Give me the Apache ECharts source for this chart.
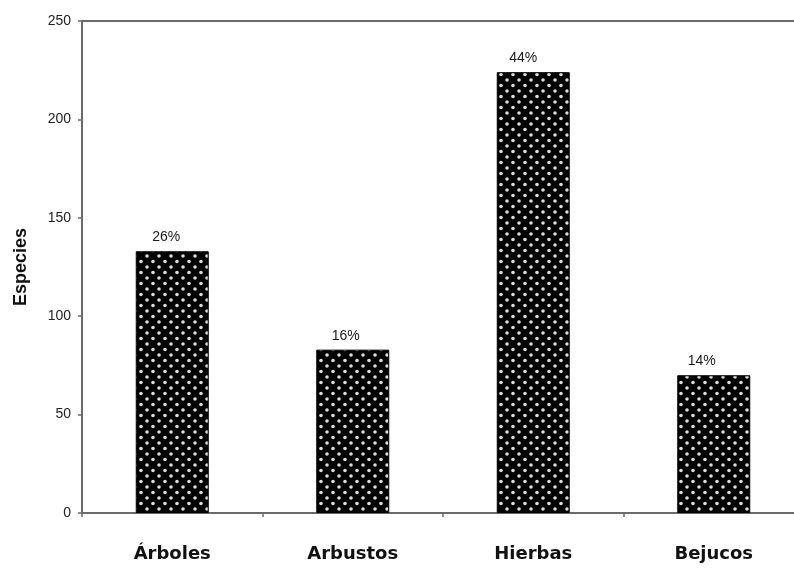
<!DOCTYPE html>
<html>
<head>
<meta charset="utf-8">
<script src="https://cdn.jsdelivr.net/npm/echarts@6/dist/echarts.min.js"></script>
<style>
  html, body { margin: 0; padding: 0; background: #ffffff; }
  #chart { width: 794px; height: 568px; }
</style>
</head>
<body>
<div id="chart"></div>
<script>
// Growth forms and number of species per form
const categories = ['Árboles', 'Arbustos', 'Hierbas', 'Bejucos'];
const especies = [133, 83, 224, 70];
const percentLabels = ['26%', '16%', '44%', '14%'];
const yTicks = [0, 50, 100, 150, 200, 250];

// horizontal nudge of each percentage label (px)
const labelShift = [-6, -7, -10, -12];

// Black fill with a staggered grid of light dots
function dottedPattern() {
  const tile = document.createElement('canvas');
  tile.width = 12;
  tile.height = 11;
  const ctx = tile.getContext('2d');
  ctx.fillStyle = '#000000';
  ctx.fillRect(0, 0, 12, 11);
  ctx.fillStyle = '#dcdcdc';
  [[3, 3], [9, 8.5]].forEach(function (p) {
    ctx.beginPath();
    ctx.arc(p[0], p[1], 1.8, 0, Math.PI * 2);
    ctx.fill();
  });
  return tile;
}

const barData = especies.map(function (v, i) {
  return { value: v, label: { offset: [labelShift[i], 0] } };
});

const axisGray = '#6a6a6a';
const chart = echarts.init(document.getElementById('chart'), null, { renderer: 'canvas' });

chart.setOption({
  animation: false,
  backgroundColor: '#ffffff',
  // the plot area runs slightly past the right edge of the page
  grid: { left: 82, width: 722, top: 21, bottom: 55, containLabel: false, outerBoundsMode: 'none' },
  xAxis: [
    {
      type: 'category',
      data: categories,
      position: 'bottom',
      axisLine: { show: true, lineStyle: { color: axisGray, width: 2 } },
      axisTick: { show: true, alignWithLabel: false, length: 4, lineStyle: { color: axisGray, width: 1.5 } },
      axisLabel: {
        margin: 32,
        color: '#111111',
        fontFamily: 'DejaVu Sans',
        fontWeight: 'bold',
        fontSize: 18
      }
    },
    {
      type: 'category',
      data: categories,
      position: 'top',
      axisLine: { show: true, lineStyle: { color: axisGray, width: 2 } },
      axisTick: { show: false },
      axisLabel: { show: false }
    }
  ],
  yAxis: {
    type: 'value',
    min: yTicks[0],
    max: yTicks[yTicks.length - 1],
    interval: yTicks[1] - yTicks[0],
    name: 'Especies',
    nameLocation: 'middle',
    nameRotate: 90,
    nameGap: 52,
    nameTextStyle: {
      color: '#111111',
      fontFamily: 'Liberation Sans',
      fontWeight: 'bold',
      fontSize: 18
    },
    axisLine: { show: true, lineStyle: { color: axisGray, width: 2 } },
    axisTick: { show: true, length: 4, lineStyle: { color: axisGray, width: 1.5 } },
    splitLine: { show: false },
    axisLabel: {
      margin: 11,
      color: '#222222',
      fontFamily: 'Liberation Sans',
      fontSize: 14
    }
  },
  series: [
    {
      type: 'bar',
      xAxisIndex: 0,
      data: barData,
      barWidth: 73,
      itemStyle: {
        color: { image: dottedPattern(), repeat: 'repeat' },
        borderColor: '#000000',
        borderWidth: 1
      },
      label: {
        show: true,
        position: 'top',
        distance: 7,
        color: '#1a1a1a',
        fontFamily: 'Liberation Sans',
        fontSize: 14,
        formatter: function (p) { return percentLabels[p.dataIndex]; }
      }
    }
  ]
});
</script>
</body>
</html>
